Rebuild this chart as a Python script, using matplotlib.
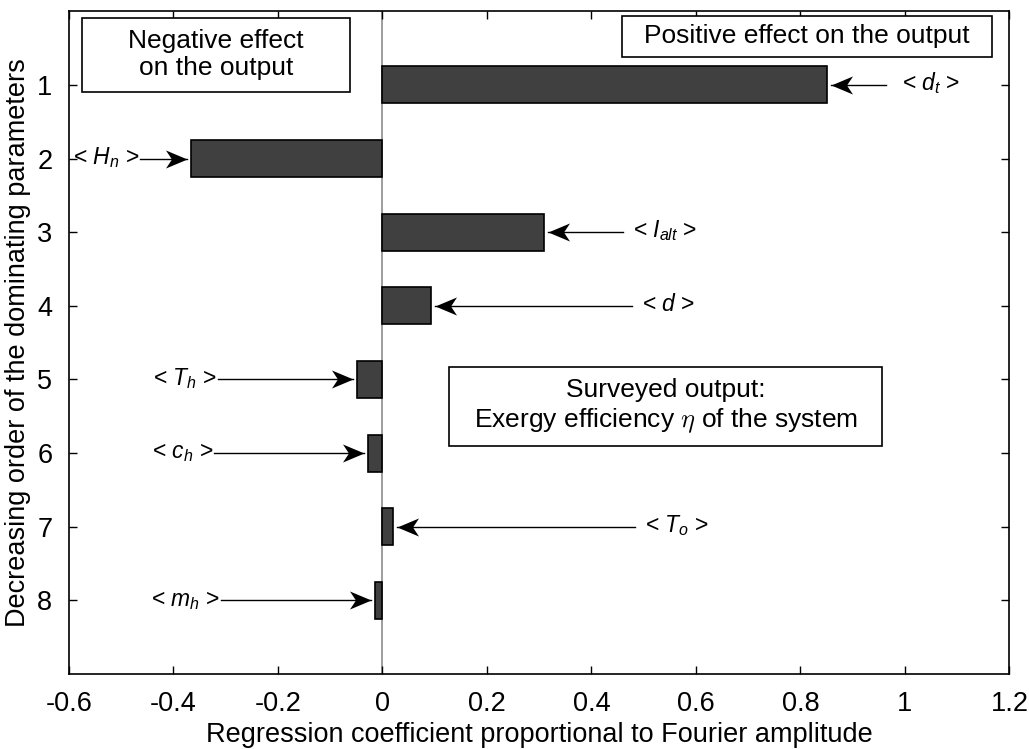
import matplotlib
matplotlib.use("Agg")
import matplotlib.pyplot as plt
from matplotlib.path import Path
from matplotlib.patches import Rectangle
import numpy as np

# ranked parameters (1 = most dominating)
rank = [1, 2, 3, 4, 5, 6, 7, 8]
coef = [0.851, -0.367, 0.310, 0.093, -0.049, -0.028, 0.021, -0.015]
names = [r'$d_t$', r'$H_n$', r'$I_{alt}$', r'$d$', r'$T_h$', r'$c_h$', r'$T_o$', r'$m_h$']
xtick_labels = ['-0.6', '-0.4', '-0.2', '0', '0.2', '0.4', '0.6', '0.8', '1', '1.2']

# annotation layout: arrow tail and label anchor (x, data units)
arrow_tail = [0.963, -0.464, 0.461, 0.478, -0.315, -0.322, 0.484, -0.309]
label_x = [0.995, -0.466, 0.480, 0.497, -0.317, -0.324, 0.503, -0.311]

plt.rcParams['font.family'] = ['Liberation Sans', 'DejaVu Sans']
plt.rcParams['mathtext.fontset'] = 'custom'
plt.rcParams['mathtext.it'] = 'Liberation Sans:italic'
plt.rcParams['mathtext.rm'] = 'Liberation Sans'

# stealth style arrow head, tip at origin
def head(direction):
    v = np.array([[0, 0], [-1, 0.42], [-0.72, 0], [-1, -0.42], [0, 0]])
    if direction < 0:
        v[:, 0] = -v[:, 0]
    return Path(v, [Path.MOVETO, Path.LINETO, Path.LINETO, Path.LINETO, Path.CLOSEPOLY])

fig = plt.figure(figsize=(10.29, 7.49), dpi=100)
ax = fig.add_axes([0.067, 0.100, 0.914, 0.885])

ax.axvline(0, color='#8c8c8c', lw=1.2, zorder=1)
ax.barh(rank, coef, height=0.5, color='#404040', edgecolor='black', lw=1.2, zorder=2)

ax.set_xlim(-0.6, 1.2)
ax.set_ylim(9, 0)
ax.set_xticks(np.arange(-0.6, 1.21, 0.2))
ax.set_xticklabels(xtick_labels)
ax.set_yticks(rank)
ax.tick_params(direction='in', length=6, width=1, labelsize=19.5, top=True, right=True, pad=12)
for s in ax.spines.values():
    s.set_linewidth(1.2)

ax.set_xlabel('Regression coefficient proportional to Fourier amplitude', fontsize=19.5)
ax.set_ylabel('Decreasing order of the dominating parameters', fontsize=19.5)

# arrows + labels
for r, c, n, t, lx in zip(rank, coef, names, arrow_tail, label_x):
    sgn = 1 if c > 0 else -1
    tip = c + sgn * 0.007
    ax.plot([t, tip], [r, r], color='black', lw=1.0, zorder=3)
    ax.plot([tip], [r], marker=head(-sgn), markersize=31, color='black',
            markeredgewidth=0, zorder=3)
    ha = 'left' if t > 0 else 'right'
    ax.text(lx, r + 0.07, '< ' + n + ' >', ha=ha, va='baseline', fontsize=16.5)

# text boxes
ax.add_patch(Rectangle((-0.575, 0.095), 0.513, 1.005, fc='white', ec='black', lw=1.2, zorder=4))
ax.text(-0.318, 0.585, 'Negative effect\non the output', ha='center', va='center',
        fontsize=19, linespacing=1.15, zorder=5)

ax.add_patch(Rectangle((0.459, 0.068), 0.707, 0.556, fc='white', ec='black', lw=1.2, zorder=4))
ax.text(0.812, 0.34, 'Positive effect on the output', ha='center', va='center',
        fontsize=19, zorder=5)

ax.add_patch(Rectangle((0.128, 4.83), 0.829, 1.07, fc='white', ec='black', lw=1.2, zorder=4))
ax.text(0.542, 5.37, 'Surveyed output:\nExergy efficiency $\\eta$ of the system',
        ha='center', va='center', fontsize=19, math_fontfamily='cm',
        linespacing=1.18, zorder=5)

fig.savefig('out.png', dpi=100)
